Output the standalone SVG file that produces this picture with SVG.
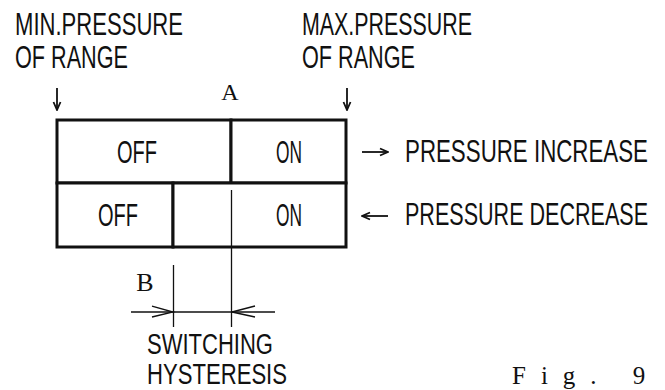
<svg xmlns="http://www.w3.org/2000/svg" width="665" height="390" viewBox="0 0 665 390">
<style>
.lbl{font-family:"Liberation Sans","DejaVu Sans",sans-serif;font-size:22px;fill:#111;}
.ser{font-family:"Liberation Serif","DejaVu Serif",serif;fill:#111;}
.cell{fill:#fff;stroke:#111;stroke-width:3;}
.thin{stroke:#111;stroke-width:1.3;fill:none;}
.arr{stroke:#111;stroke-width:1.8;fill:none;}
</style>
<defs>
<marker id="ah" markerWidth="10" markerHeight="10" refX="9" refY="5" orient="auto" markerUnits="userSpaceOnUse">
<path d="M1,1.5 L9,5 L1,8.5" fill="none" stroke="#111" stroke-width="1.8"/>
</marker>
</defs>
<rect width="665" height="390" fill="#fff"/>

<g id="label-min">
<text class="lbl" transform="translate(15,35) scale(1,1.4)" textLength="168" lengthAdjust="spacingAndGlyphs">MIN.PRESSURE</text>
<text class="lbl" transform="translate(15,68) scale(1,1.4)" textLength="113" lengthAdjust="spacingAndGlyphs">OF RANGE</text>
</g>
<g id="label-max">
<text class="lbl" transform="translate(302,35) scale(1,1.4)" textLength="170" lengthAdjust="spacingAndGlyphs">MAX.PRESSURE</text>
<text class="lbl" transform="translate(302,68) scale(1,1.4)" textLength="113" lengthAdjust="spacingAndGlyphs">OF RANGE</text>
</g>
<g id="label-a">
<text class="ser" x="230" y="100" font-size="24" text-anchor="middle">A</text>
</g>

<g id="cell-inc-off">
<rect class="cell" x="57" y="120" width="174" height="63"/>
<text class="lbl" transform="translate(137,162.5) scale(1,1.4)" text-anchor="middle" textLength="40" lengthAdjust="spacingAndGlyphs">OFF</text>
</g>
<g id="cell-inc-on">
<rect class="cell" x="231" y="120" width="115" height="63"/>
<text class="lbl" transform="translate(289,162.5) scale(1,1.4)" text-anchor="middle" textLength="26" lengthAdjust="spacingAndGlyphs">ON</text>
</g>
<g id="cell-dec-off">
<rect class="cell" x="57" y="183" width="116" height="64"/>
<text class="lbl" transform="translate(118,225.5) scale(1,1.4)" text-anchor="middle" textLength="40" lengthAdjust="spacingAndGlyphs">OFF</text>
</g>
<g id="cell-dec-on">
<rect class="cell" x="173" y="183" width="173" height="64"/>
<text class="lbl" transform="translate(289,225.5) scale(1,1.4)" text-anchor="middle" textLength="26" lengthAdjust="spacingAndGlyphs">ON</text>
</g>

<g id="label-inc">
<text class="lbl" transform="translate(405,162) scale(1,1.4)" textLength="243" lengthAdjust="spacingAndGlyphs">PRESSURE INCREASE</text>
</g>
<g id="label-dec">
<text class="lbl" transform="translate(405,225) scale(1,1.4)" textLength="243" lengthAdjust="spacingAndGlyphs">PRESSURE DECREASE</text>
</g>
<g id="label-b">
<text class="ser" x="145" y="291" font-size="26" text-anchor="middle">B</text>
</g>
<g id="label-hyst">
<text class="lbl" transform="translate(147,354) scale(1,1.3)" textLength="126" lengthAdjust="spacingAndGlyphs">SWITCHING</text>
<text class="lbl" transform="translate(147,384) scale(1,1.3)" textLength="140" lengthAdjust="spacingAndGlyphs">HYSTERESIS</text>
</g>
<g id="label-fig">
<text class="ser" x="512" y="384" font-size="25" letter-spacing="15">Fig. 9</text>
</g>

<g id="connectors">
<line class="arr" x1="57" y1="88" x2="57" y2="110" marker-end="url(#ah)"/>
<line class="arr" x1="347" y1="88" x2="347" y2="110" marker-end="url(#ah)"/>
<line class="arr" x1="362" y1="152" x2="388" y2="152" marker-end="url(#ah)"/>
<line class="arr" x1="388" y1="216" x2="362" y2="216" marker-end="url(#ah)"/>
<line class="thin" x1="231.5" y1="190" x2="231.5" y2="327"/>
<line class="thin" x1="173.5" y1="265" x2="173.5" y2="327"/>
<line class="thin" x1="131" y1="312" x2="275" y2="312"/>
<path class="thin" d="M152,306 L173,312 L152,317"/>
<path class="thin" d="M255,306 L232,312 L255,317"/>
</g>
</svg>
